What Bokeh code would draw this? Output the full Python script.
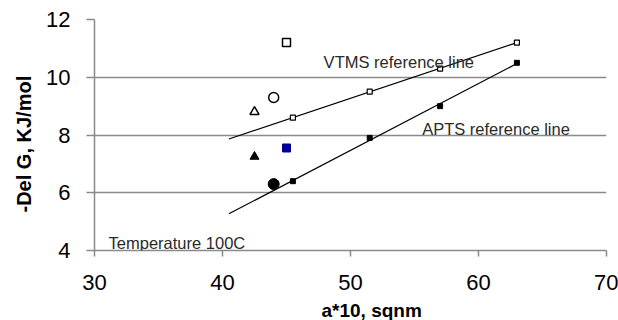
import numpy as np
from bokeh.plotting import figure
from bokeh.models import Label, FixedTicker, Range1d, Title
from bokeh.embed import file_html
from bokeh.resources import INLINE

# VTMS reference series
vtms_x = [45.5, 51.5, 57.0, 63.0]
vtms_y = [8.6, 9.5, 10.3, 11.2]
# APTS reference series
apts_x = [45.5, 51.5, 57.0, 63.0]
apts_y = [6.4, 7.9, 9.0, 10.5]
# trend line extent
trend_x_start = 40.5
# individual points
open_sq_x, open_sq_y = [45.0], [11.2]
open_circ_x, open_circ_y = [44.0], [9.3]
open_tri_x, open_tri_y = [42.5], [8.8]
blue_sq_x, blue_sq_y = [45.0], [7.55]
fill_tri_x, fill_tri_y = [42.5], [7.25]
fill_circ_x, fill_circ_y = [44.0], [6.3]

x_ticks = [30, 40, 50, 60, 70]
y_ticks = [4, 6, 8, 10, 12]

FONT = "Liberation Sans"
GRID = "#8a8a8a"

p = figure(frame_width=512, frame_height=231, output_backend="svg", toolbar_location=None,
           x_range=Range1d(30, 70), y_range=Range1d(4, 12),
           min_border_left=94, min_border_right=12, min_border_top=19, min_border_bottom=69)
p.outline_line_color = None
p.background_fill_color = "white"
p.border_fill_color = "white"

p.xgrid.grid_line_color = None
p.ygrid.grid_line_color = GRID
p.ygrid.grid_line_width = 1.5
p.ygrid.ticker = FixedTicker(ticks=y_ticks)

p.xaxis.ticker = FixedTicker(ticks=x_ticks)
p.yaxis.ticker = FixedTicker(ticks=y_ticks)
for ax in (p.xaxis[0], p.yaxis[0]):
    ax.axis_line_color = GRID
    ax.axis_line_width = 1.5
    ax.major_tick_line_color = GRID
    ax.major_tick_line_width = 1.5
    ax.minor_tick_line_color = None
    ax.major_tick_in = 0
    ax.major_label_text_font = FONT
    ax.major_label_text_font_size = "22px"
    ax.major_label_text_color = "black"
p.xaxis.major_tick_out = 6
p.yaxis.major_tick_out = 8
p.xaxis.major_label_standoff = 18
p.yaxis.major_label_standoff = 16

# trend lines (least-squares fit of the reference series)
for xs, ys in ((vtms_x, vtms_y), (apts_x, apts_y)):
    m, b = np.polyfit(xs, ys, 1)
    lx = [trend_x_start, max(xs)]
    p.line(lx, [m * v + b for v in lx], line_color="black", line_width=1.2)

p.scatter(vtms_x, vtms_y, marker="square", size=5, fill_color="white", line_color="black", line_width=1.2)
p.scatter(apts_x, apts_y, marker="square", size=5, fill_color="black", line_color="black")

p.scatter(open_sq_x, open_sq_y, marker="square", size=8, fill_color="white", line_color="black", line_width=1.5)
p.scatter(open_circ_x, open_circ_y, marker="circle", size=10, fill_color="white", line_color="black", line_width=1.5)
p.scatter(open_tri_x, open_tri_y, marker="triangle", size=9, fill_color="white", line_color="black", line_width=1.5)
p.scatter(blue_sq_x, blue_sq_y, marker="square", size=8, fill_color="#000099", line_color="#000099")
p.scatter(fill_tri_x, fill_tri_y, marker="triangle", size=9, fill_color="black", line_color="black")
p.scatter(fill_circ_x, fill_circ_y, marker="circle", size=11, fill_color="black", line_color="black")

p.add_layout(Label(x=47.9, y=10.53, text="VTMS reference line", text_font=FONT,
                   text_font_size="16.5px", text_color="#2a2a2a", text_baseline="alphabetic"))
p.add_layout(Label(x=55.6, y=8.22, text="APTS reference line", text_font=FONT,
                   text_font_size="16.5px", text_color="#2a2a2a", text_baseline="alphabetic"))
p.add_layout(Label(x=31.1, y=4.27, text="Temperature 100C", text_font=FONT,
                   text_font_size="16.5px", text_color="#2a2a2a", text_baseline="alphabetic"))

# axis titles
p.add_layout(Title(text="a*10, sqnm", align="left", offset=227, text_font=FONT,
                   text_font_size="19px", text_font_style="bold", text_color="black"), "below")
p.add_layout(Title(text="-Del G, KJ/mol", align="left", offset=38, text_font=FONT,
                   text_font_size="20px", text_font_style="bold", text_color="black",
                   standoff=18), "left")

open("out.html", "w").write(file_html(p, INLINE))
